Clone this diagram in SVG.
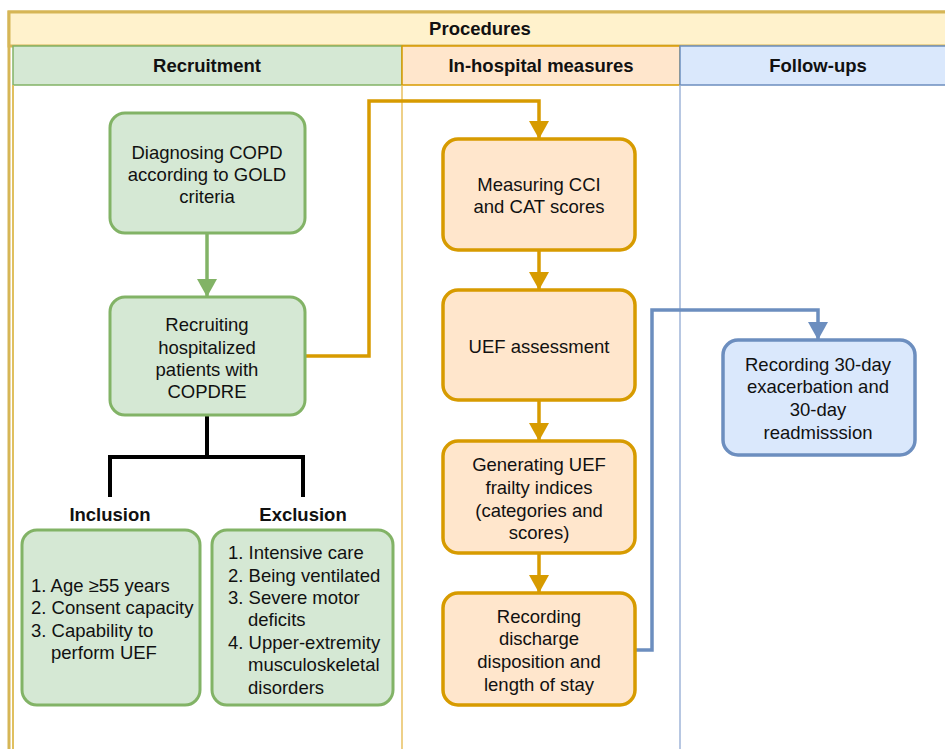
<svg xmlns="http://www.w3.org/2000/svg" width="945" height="749" viewBox="0 0 945 749">
<defs>
<style>
text{font-family:"Liberation Sans",Arial,sans-serif;font-size:18.5px;fill:#111;}
.c{text-anchor:middle;}
.b{font-weight:bold;}
.g{fill:#d5e8d4;stroke:#82b366;stroke-width:3;}
.o{fill:#ffe6cc;stroke:#d79b00;stroke-width:3.5;}
.bl{fill:#dae8fc;stroke:#6c8ebf;stroke-width:3.5;}
.eo{fill:none;stroke:#d79b00;stroke-width:3.5;}
.eb{fill:none;stroke:#6c8ebf;stroke-width:3.5;}
.eg{fill:none;stroke:#82b366;stroke-width:3.5;}
.ek{fill:none;stroke:#000;stroke-width:4;}
</style>
<marker id="ao" markerUnits="userSpaceOnUse" markerWidth="22" markerHeight="20" refX="18" refY="10" orient="auto"><path d="M0,0 L18,10 L0,20 z" fill="#d79b00"/></marker>
<marker id="ab" markerUnits="userSpaceOnUse" markerWidth="22" markerHeight="20" refX="18" refY="10" orient="auto"><path d="M0,0 L18,10 L0,20 z" fill="#6c8ebf"/></marker>
<marker id="ag" markerUnits="userSpaceOnUse" markerWidth="22" markerHeight="20" refX="18" refY="10" orient="auto"><path d="M0,0 L18,10 L0,20 z" fill="#82b366"/></marker>
</defs>
<rect width="945" height="749" fill="#fff"/>
<g id="pool">
<rect x="9" y="12" width="940" height="745" fill="none" stroke="#d6b656" stroke-width="3"/>
<rect x="9" y="12" width="940" height="34" fill="#fff2cc" stroke="#d6b656" stroke-width="3"/>
<text class="c b" x="480" y="35">Procedures</text>
</g>
<g id="lane-recruitment">
<rect x="13" y="46" width="389" height="39" fill="#d5e8d4" stroke="#82b366" stroke-width="1.5"/>
<text class="c b" x="207" y="72">Recruitment</text>
<line x1="13" y1="85" x2="13" y2="749" stroke="#e0c060" stroke-width="2"/>
</g>
<g id="lane-inhospital">
<rect x="402" y="46" width="278" height="39" fill="#ffe6cc" stroke="#d79b00" stroke-width="1.5"/>
<text class="c b" x="541" y="72">In-hospital measures</text>
<line x1="402" y1="85" x2="402" y2="749" stroke="#e8c060" stroke-width="1.5"/>
</g>
<g id="lane-followups">
<rect x="680" y="46" width="270" height="39" fill="#dae8fc" stroke="#6c8ebf" stroke-width="1.5"/>
<text class="c b" x="818" y="72">Follow-ups</text>
<line x1="680" y1="85" x2="680" y2="749" stroke="#9fb5d8" stroke-width="1.5"/>
</g>
<g id="connectors">
<path class="eg" d="M207,233 L207,297" marker-end="url(#ag)"/>
<path class="ek" d="M207,415 L207,457 M110,497 L110,457 L303,457 L303,497"/>
<path class="eo" d="M305,356 L369,356 L369,101 L539,101 L539,139" marker-end="url(#ao)"/>
<path class="eo" d="M539,250 L539,290" marker-end="url(#ao)"/>
<path class="eo" d="M539,400 L539,441" marker-end="url(#ao)"/>
<path class="eo" d="M539,553 L539,593" marker-end="url(#ao)"/>
<path class="eb" d="M635,650 L652,650 L652,310 L818,310 L818,340" marker-end="url(#ab)"/>
</g>
<g id="diagnosing">
<rect class="g" x="110" y="113" width="195" height="120" rx="15"/>
<text class="c" x="207" y="159">Diagnosing COPD</text>
<text class="c" x="207" y="181">according to GOLD</text>
<text class="c" x="207" y="203">criteria</text>
</g>
<g id="recruiting">
<rect class="g" x="110" y="297" width="195" height="118" rx="15"/>
<text class="c" x="207" y="331">Recruiting</text>
<text class="c" x="207" y="354">hospitalized</text>
<text class="c" x="207" y="376">patients with</text>
<text class="c" x="207" y="398">COPDRE</text>
</g>
<g id="inclusion">
<text class="c b" x="110" y="521">Inclusion</text>
<rect class="g" x="22" y="530" width="178" height="175" rx="15" stroke-width="2"/>
<text x="31" y="592">1. Age ≥55 years</text>
<text x="31" y="614">2. Consent capacity</text>
<text x="31" y="637">3. Capability to</text>
<text x="51" y="659">perform UEF</text>
</g>
<g id="exclusion">
<text class="c b" x="303" y="521">Exclusion</text>
<rect class="g" x="212" y="530" width="181" height="175" rx="15" stroke-width="2"/>
<text x="228" y="559">1. Intensive care</text>
<text x="228" y="582">2. Being ventilated</text>
<text x="228" y="604">3. Severe motor</text>
<text x="248" y="626">deficits</text>
<text x="228" y="649">4. Upper-extremity</text>
<text x="248" y="671">musculoskeletal</text>
<text x="248" y="694">disorders</text>
</g>
<g id="measuring">
<rect class="o" x="443" y="139" width="192" height="111" rx="15"/>
<text class="c" x="539" y="191">Measuring CCI</text>
<text class="c" x="539" y="213">and CAT scores</text>
</g>
<g id="uef">
<rect class="o" x="443" y="290" width="192" height="110" rx="15"/>
<text class="c" x="539" y="353">UEF assessment</text>
</g>
<g id="generating">
<rect class="o" x="443" y="441" width="192" height="112" rx="15"/>
<text class="c" x="539" y="471">Generating UEF</text>
<text class="c" x="539" y="494">frailty indices</text>
<text class="c" x="539" y="517">(categories and</text>
<text class="c" x="539" y="539">scores)</text>
</g>
<g id="recording-discharge">
<rect class="o" x="443" y="593" width="192" height="112" rx="15"/>
<text class="c" x="539" y="623">Recording</text>
<text class="c" x="539" y="645">discharge</text>
<text class="c" x="539" y="668">disposition and</text>
<text class="c" x="539" y="691">length of stay</text>
</g>
<g id="recording-followup">
<rect class="bl" x="723" y="340" width="192" height="115" rx="15"/>
<text class="c" x="818" y="371">Recording 30-day</text>
<text class="c" x="818" y="393">exacerbation and</text>
<text class="c" x="818" y="416">30-day</text>
<text class="c" x="818" y="439">readmisssion</text>
</g>
</svg>
